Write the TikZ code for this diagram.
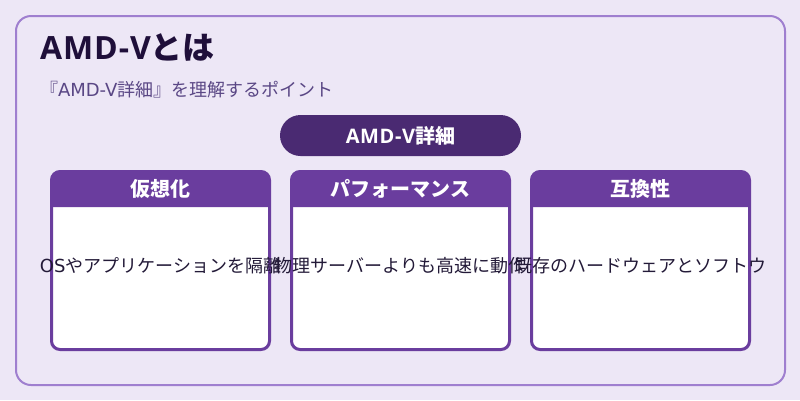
\documentclass[tikz,border=0pt]{standalone}
\usepackage{fontspec}
\setmainfont{Noto Sans CJK JP}
\newfontfamily\latinfont{DejaVu Sans}
\newfontfamily\latinbold[LetterSpace=3]{Open Sans}
\usetikzlibrary{positioning}
\definecolor{pagebg}{HTML}{EDE7F6}
\definecolor{frameline}{HTML}{9F7FCF}
\definecolor{titleink}{HTML}{1F0F3A}
\definecolor{subink}{HTML}{5A4785}
\definecolor{pillfill}{HTML}{4A2A72}
\definecolor{headfill}{HTML}{6A3D9E}
\definecolor{bodyink}{HTML}{231A38}
\tikzset{
	framebox/.style={draw=frameline, line width=2pt, rounded corners=15pt, minimum width=769pt, minimum height=369pt},
	cardbox/.style={draw=headfill, fill=white, line width=3pt, rounded corners=8.5pt, minimum width=218pt, minimum height=178pt},
	pillbox/.style={fill=pillfill, rounded corners=20.5pt, minimum width=241pt, minimum height=41pt, text=white, font=\fontsize{20}{20}\selectfont\bfseries},
	headtext/.style={text=white, font=\fontsize{20}{20}\selectfont\bfseries},
	bodytext/.style={text=bodyink, font=\fontsize{18}{18}\selectfont},
}
\begin{document}
\begin{tikzpicture}[x=1pt, y=-1pt, every node/.style={inner sep=0,outer sep=0}, node distance=22pt]

	\useasboundingbox[fill=pagebg] (0,0) rectangle (800,400);

	%Nodes
	\node[framebox] (frame) at (400.5,200.5) {};
	\node[anchor=base west, text=titleink, font=\fontsize{32}{32}\selectfont\bfseries] (title) at (40,59) {{\latinbold AMD-V}とは};
	\node[anchor=base west, text=subink, font=\fontsize{18}{18}\selectfont] (sub) at (40,96) {『{\latinfont AMD-V}詳細』を理解するポイント};
	\node[pillbox] (pill) at (400.5,135.5) {{\latinbold AMD-V}詳細};

	\node[cardbox] (card1) at (160.5,260.5) {};
	\node[cardbox] (card2) [right=of card1] {};
	\node[cardbox] (card3) [right=of card2] {};

	%Headers
	\foreach \n/\t in {1/仮想化, 2/パフォーマンス, 3/互換性} {
		\fill[headfill] ([yshift=-35.5pt]card\n.north west) [rounded corners=8.5pt] -- (card\n.north west) -- (card\n.north east) [sharp corners] -- ([yshift=-35.5pt]card\n.north east) -- cycle;
		\node[headtext] (head\n) at ([yshift=-17.5pt]card\n.north) {\t};
	}

	%Texts
	\node[bodytext] (text1) at (160.5,266) {{\latinfont OS}やアプリケーションを隔離};
	\node[bodytext] (text2) at (400.5,266) {物理サーバーよりも高速に動作};
	\node[bodytext] (text3) at (640.5,266) {既存のハードウェアとソフトウ};
\end{tikzpicture}
\end{document}
